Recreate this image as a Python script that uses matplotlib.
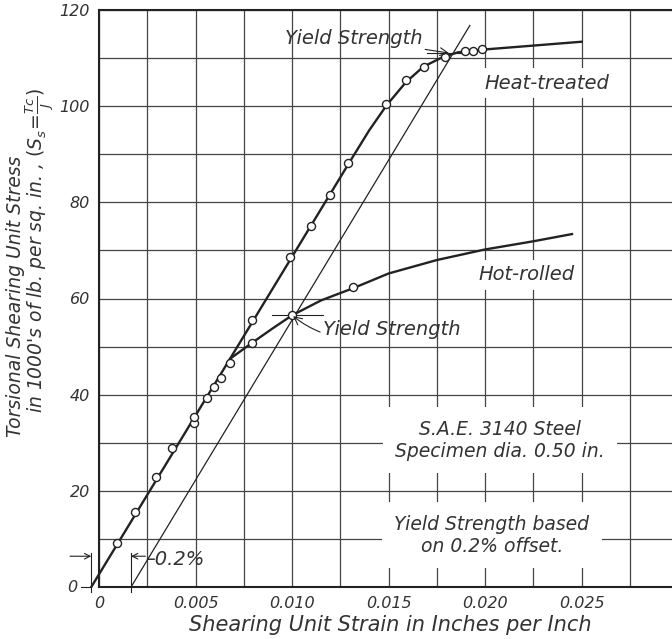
import numpy as np
import matplotlib.pyplot as plt

# heat-treated specimen: test points and faired curve
ht_strain = [0.00095, 0.00186, 0.00293, 0.0038, 0.0049, 0.00493, 0.0056, 0.00597,
             0.0063, 0.0068, 0.0079, 0.00989, 0.01096, 0.01196, 0.0129, 0.01489,
             0.01589, 0.01684, 0.01794, 0.01894, 0.01937, 0.01986]
ht_stress = [9.1, 15.7, 22.9, 29.0, 34.2, 35.4, 39.4, 41.6, 43.5, 46.5, 55.5, 68.7,
             75.1, 81.6, 88.1, 100.4, 105.5, 108.2, 110.3, 111.4, 111.4, 111.8]
ht_line_x = [-0.0004, 0.0130, 0.0140, 0.0149, 0.0159, 0.0168, 0.0178, 0.0186, 0.0200, 0.0250]
ht_line_y = [0.0, 88.5, 95.0, 100.2, 105.0, 108.2, 110.2, 111.2, 111.8, 113.4]

# hot-rolled specimen
hr_strain = [0.0079, 0.0100, 0.01317]
hr_stress = [50.7, 56.5, 62.3]
hr_line_x = [0.0068, 0.0079, 0.0090, 0.0100, 0.0115, 0.0132, 0.0150, 0.0175, 0.0200, 0.0225, 0.0245]
hr_line_y = [47.5, 50.7, 53.8, 56.5, 59.6, 62.2, 65.2, 68.0, 70.2, 71.9, 73.4]

# 0.2% offset line
offset_x = [0.00166, 0.01921]
offset_y = [0.0, 116.8]

# yield points
ht_yield = (0.0182, 111.0)
hr_yield = (0.0100, 56.5)

x_ticks = [0, 0.005, 0.010, 0.015, 0.020, 0.025]
x_labels = ['0', '0.005', '0.010', '0.015', '0.020', '0.025']
y_ticks = [0, 20, 40, 60, 80, 100, 120]
y_labels = ['', '20', '40', '60', '80', '100', '120']

ink = '#222222'
txt = dict(style='italic', color='#333333')

fig = plt.figure(figsize=(6.72, 6.39), dpi=100)
ax = fig.add_axes([99/672, 52/639, 1 - 99/672, 577/639])
ax.set_xlim(0, 0.02968)
ax.set_ylim(0, 120)

ax.set_xticks(x_ticks)
ax.set_xticklabels(x_labels, fontsize=11.5, **txt)
ax.set_xticks(np.arange(0, 0.0296, 0.0025), minor=True)
ax.set_yticks(y_ticks)
ax.set_yticklabels(y_labels, fontsize=11.5, **txt)
ax.set_yticks(np.arange(0, 121, 10), minor=True)
ax.tick_params(which='both', length=0, pad=6.5)
ax.grid(which='both', color='#444444', linewidth=0.9)
ax.set_axisbelow(True)
for s in ['left', 'top', 'bottom']:
    ax.spines[s].set_linewidth(1.5)
    ax.spines[s].set_color(ink)
ax.spines['right'].set_visible(False)

# curves
ax.plot(ht_line_x, ht_line_y, color=ink, lw=1.7, clip_on=False, zorder=4)
ax.plot(hr_line_x, hr_line_y, color=ink, lw=1.7, zorder=4)
ax.plot(offset_x, offset_y, color=ink, lw=0.9, zorder=4)
ax.plot(ht_strain, ht_stress, 'o', ms=5.8, mfc='white', mec=ink, mew=1.0, zorder=5)
ax.plot(hr_strain, hr_stress, 'o', ms=5.8, mfc='white', mec=ink, mew=1.0, zorder=5)

# crosshair marks at yield points
ax.plot([0.0170, 0.0190], [ht_yield[1], ht_yield[1]], color=ink, lw=0.8, zorder=4)
ax.plot([0.00896, 0.0116], [hr_yield[1], hr_yield[1]], color=ink, lw=0.8, zorder=4)

ax.annotate('Yield Strength', xy=ht_yield, xytext=(0.01675, 114.1), ha='right', va='center',
            fontsize=14, arrowprops=dict(arrowstyle='->', color=ink, lw=0.8,
                                         shrinkA=0, shrinkB=1), zorder=6, **txt)
ax.annotate('Yield Strength', xy=hr_yield, xytext=(0.0116, 53.6), ha='left', va='center',
            fontsize=14, arrowprops=dict(arrowstyle='->', color=ink, lw=0.8,
                                         shrinkA=0, shrinkB=1,
                                         connectionstyle='arc3,rad=-0.3'), zorder=6, **txt)

box = dict(facecolor='white', edgecolor='none', pad=4)
ax.text(0.0232, 104.8, 'Heat-treated', ha='center', va='center', fontsize=14, bbox=box, zorder=6, **txt)
ax.text(0.02216, 64.9, 'Hot-rolled', ha='center', va='center', fontsize=14, bbox=box, zorder=6, **txt)
ax.text(0.02077, 30.5, 'S.A.E. 3140 Steel\nSpecimen dia. 0.50 in.', ha='center', va='center',
        fontsize=13.5, linespacing=1.2, bbox=dict(facecolor='white', edgecolor='none', pad=9),
        zorder=6, **txt)
ax.text(0.02035, 10.8, 'Yield Strength based\non 0.2% offset.', ha='center', va='center',
        fontsize=13.5, linespacing=1.2, bbox=dict(facecolor='white', edgecolor='none', pad=9),
        zorder=6, **txt)

# 0.2% offset dimension
for xv in [-0.0004, 0.00166]:
    ax.plot([xv, xv], [-1.0, 7.0], color=ink, lw=0.8, clip_on=False, zorder=4)
ax.plot([-0.00095, -0.0004], [0, 0], color=ink, lw=0.8, clip_on=False)
ax.annotate('', xy=(-0.0004, 6.4), xytext=(-0.0015, 6.4), annotation_clip=False,
            arrowprops=dict(arrowstyle='->', color=ink, lw=0.8, shrinkA=0, shrinkB=0))
ax.annotate('', xy=(0.00166, 6.4), xytext=(0.0024, 6.4), annotation_clip=False,
            arrowprops=dict(arrowstyle='->', color=ink, lw=0.8, shrinkA=0, shrinkB=0))
ax.text(0.0024, 5.8, '\u20130.2%', ha='left', va='center', fontsize=14, **txt)
ax.text(-0.0011, 0, '0', ha='right', va='center', fontsize=11.5, clip_on=False, **txt)

# axis titles
fig.text(16/672, 1 - 296/639, 'Torsional Shearing Unit Stress', rotation=90,
         ha='center', va='center', fontsize=13.5, **txt)
fig.text(40/672, 1 - 250/639, r"in 1000's of lb. per sq. in. , $(S_s\!=\!\frac{Tc}{J})$",
         rotation=90, ha='center', va='center', fontsize=13.5, **txt)
fig.text(390/672, 1 - 625/639, 'Shearing Unit Strain in Inches per Inch',
         ha='center', va='center', fontsize=15, **txt)

fig.savefig('out.png', dpi=100, facecolor='white')
